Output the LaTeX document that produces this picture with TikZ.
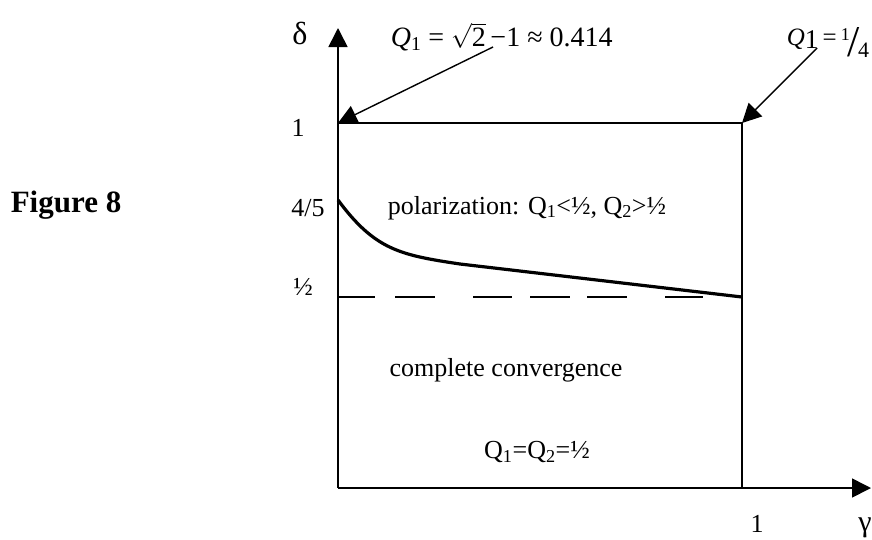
\documentclass[tikz,border=0pt]{standalone}
\usepackage{fontspec}
\setmainfont{Liberation Serif}
\usetikzlibrary{arrows.meta}
\tikzset{
  lbl/.style={font=\fontsize{26}{30}\selectfont, inner sep=0pt},
  bigtip/.style={-{Triangle[length=19pt,width=19pt]}},
}
\begin{document}
\begin{tikzpicture}[x=1pt, y=-1pt, line width=1.6pt]
  \useasboundingbox (0,0) rectangle (872,539);
  \def\ox{338}\def\oy{488}\def\rx{742}\def\ty{123}\def\hy{297}
  \coordinate (O) at (\ox,\oy);
  \coordinate (TL) at (\ox,\ty);
  \coordinate (TR) at (\rx,\ty);
  \coordinate (BR) at (\rx,\oy);
  \coordinate (ytip) at (\ox,28);
  \coordinate (xtip) at (871,\oy);
  \draw[bigtip] (O) -- (ytip);
  \draw[bigtip] (O) -- (xtip);
  \draw (TL) -- (TR) -- (BR);
  \foreach \a/\b in {338/375,395/435,473/512,530/570,587/627,665/703}
    \draw[line width=1.4pt] (\a,\hy) -- (\b,\hy);
  \draw[line width=3.2pt] (\ox,200) .. controls (375,250) and (400,255) .. (460,264) -- (\rx,\hy);
  \node[lbl, font=\fontsize{32}{36}\selectfont] (delta) at (300,33) {δ};
  \node[lbl, font=\fontsize{28}{32}\selectfont, anchor=base west] (qleft) at (390,46) {\textit{Q}\textsubscript{1} = $\sqrt{\mbox{2}}$\,−1 ≈ 0.414};
  \node[lbl, font=\fontsize{25}{28}\selectfont, anchor=base west] (qright) at (786,45) {\textit{Q}\raisebox{-3pt}{\fontsize{27}{28}\selectfont 1}\,=\,\raisebox{5pt}{\fontsize{18}{20}\selectfont 1}\kern-2pt\raisebox{-11pt}{\fontsize{44}{46}\selectfont /}\kern-2pt\raisebox{-12pt}{\fontsize{22}{24}\selectfont 4}};
  \coordinate (qa) at (493,47);
  \coordinate (qb) at (817,48);
  \draw[bigtip, line width=1.4pt] (qa) -- (TL);
  \draw[bigtip, line width=1.4pt] (qb) -- (TR);
  \node[lbl] (one) at (298,128) {1};
  \node[lbl] (fourfifth) at (308,208) {4/5};
  \node[lbl] (half) at (303,287) {½};
  \node[lbl, font=\bfseries\fontsize{31}{36}\selectfont, anchor=west] (fig) at (10,205) {Figure 8};
  \node[lbl] (pol) at (527,208) {polarization: Q\textsubscript{1}<½, Q\textsubscript{2}>½};
  \node[lbl] (conv) at (506,370) {complete convergence};
  \node[lbl] (eq) at (537,452) {Q\textsubscript{1}=Q\textsubscript{2}=½};
  \node[lbl, anchor=base] (xone) at (757,532) {1};
  \node[lbl, font=\fontsize{30}{34}\selectfont, anchor=base] (gamma) at (865,531) {γ};
\end{tikzpicture}
\end{document}
